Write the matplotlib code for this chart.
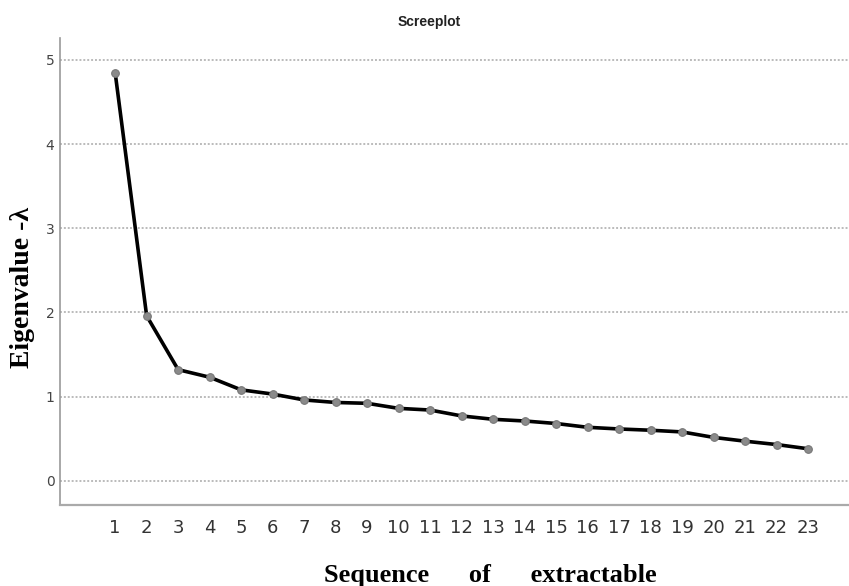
"""
Scree plot: eigenvalues of the extracted components.
"""
import matplotlib
matplotlib.use("Agg")
import matplotlib.pyplot as plt

components = list(range(1, 24))
eigenvalues = [4.85, 1.96, 1.32, 1.23, 1.08, 1.03, 0.96, 0.93, 0.92, 0.86,
               0.84, 0.77, 0.73, 0.71, 0.68, 0.635, 0.615, 0.60, 0.58, 0.515,
               0.47, 0.43, 0.38]
y_ticks = [0, 1, 2, 3, 4, 5]


def plot_scree():
    fig = plt.figure(figsize=(8.49, 5.86), dpi=100)
    ax = fig.add_axes([0.0707, 0.138, 0.9293, 0.797])

    for yv in y_ticks:
        ax.axhline(yv, color="#bbbbbb", lw=1.4, ls=(0, (1, 1)), zorder=1)

    ax.plot(components, eigenvalues, color="black", lw=2.6, zorder=3,
            marker="o", markersize=5.5, markerfacecolor="#8a8a8a",
            markeredgecolor="#777777", markeredgewidth=0.8)

    ax.set_xlim(-0.75, 24.3)
    ax.set_ylim(-0.29, 5.26)
    ax.set_xticks(components)
    ax.set_yticks(y_ticks)
    ax.tick_params(axis="x", length=0, pad=10, labelsize=13, colors="#333333")
    ax.tick_params(axis="y", length=0, pad=4, labelsize=10, colors="#444444")

    for s in ["top", "right"]:
        ax.spines[s].set_visible(False)
    ax.spines["left"].set_color("#999999")
    ax.spines["left"].set_linewidth(1.2)
    ax.spines["bottom"].set_color("#aaaaaa")
    ax.spines["bottom"].set_linewidth(1.6)
    ax.spines["bottom"].set_linestyle((0, (1, 1)))

    fig.text(0.506, 0.962, "Screeplot", ha="center", va="center",
             fontsize=10, fontweight="bold", color="#222222",
             family="Liberation Sans")
    fig.text(0.026, 0.51, "Eigenvalue -λ", rotation=90, ha="center",
             va="center", fontsize=20, fontweight="bold",
             family="Liberation Serif")
    fig.text(0.577, 0.018, "Sequence      of      extractable", ha="center",
             va="center", fontsize=19, fontweight="bold",
             family="Liberation Serif")

    fig.savefig("out.png", dpi=100)


if __name__ == "__main__":
    plot_scree()
